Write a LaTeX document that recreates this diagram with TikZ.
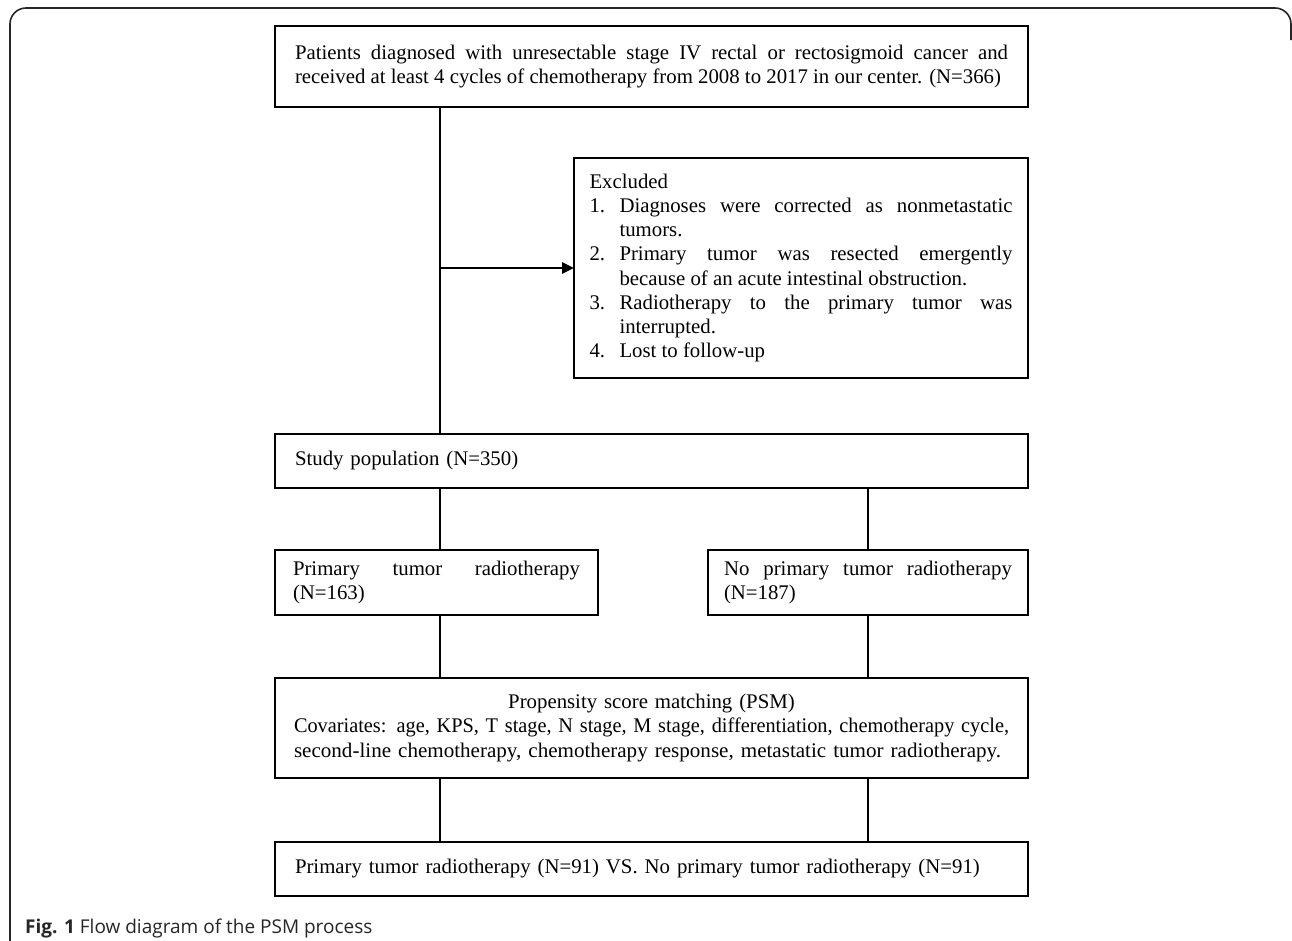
\documentclass[tikz,border=0pt]{standalone}
\usepackage{graphicx}
\usepackage{fontspec}
\setmainfont{Liberation Serif}
\newfontfamily\capfont{Open Sans}
\usetikzlibrary{arrows.meta}
\begin{document}
\begin{tikzpicture}[x=1pt,y=-1pt,
  box/.style={draw=black, line width=2.8pt, inner xsep=20pt, inner ysep=0pt, outer sep=0pt,
    font=\fontsize{20.8}{24.2}\selectfont, anchor=north west},
  conn/.style={line width=2.8pt},
  arr/.style={conn, -{Triangle[length=12pt,width=11pt]}},
  frame/.style={line width=1.6pt, draw=black!85, rounded corners=16pt}
]
\useasboundingbox (0,0) rectangle (1292,940);
\fill[white] (0,0) rectangle (1292,940);
\draw[frame] (10,942) -- (10,8) -- (1291,8) -- (1291,40);

\node[box, minimum width=753pt, minimum height=81pt, text width=713pt, align=justify] (top) at (275,26)
  {Patients diagnosed with unresectable stage IV rectal or rectosigmoid cancer and\linebreak
   received at least 4 cycles of chemotherapy from 2008 to 2017 in our center. (N=366)};

\node[box, minimum width=454pt, minimum height=220pt, text width=423pt, inner xsep=15.5pt, align=justify] (excl) at (574,158)
  {\noindent Excluded\par
   \noindent\hangindent=30pt\hangafter=1\makebox[30pt][l]{1.}Diagnoses were corrected as nonmetastatic\linebreak tumors.\par
   \noindent\hangindent=30pt\hangafter=1\makebox[30pt][l]{2.}Primary tumor was resected emergently\linebreak because of an acute intestinal obstruction.\par
   \noindent\hangindent=30pt\hangafter=1\makebox[30pt][l]{3.}Radiotherapy to the primary tumor was\linebreak interrupted.\par
   \noindent\hangindent=30pt\hangafter=1\makebox[30pt][l]{4.}Lost to follow-up\par};

\node[box, minimum width=753pt, minimum height=54pt, text width=713pt, align=left] (study) at (275,434)
  {Study population (N=350)};

\node[box, minimum width=323pt, minimum height=65pt, text width=287pt, inner xsep=18pt, align=justify] (left) at (275,550)
  {Primary tumor radiotherapy\linebreak (N=163)};

\node[box, minimum width=320pt, minimum height=65pt, text width=288pt, inner xsep=16pt, align=justify] (right) at (708,550)
  {No primary tumor radiotherapy\linebreak (N=187)};

\node[box, minimum width=753pt, minimum height=100pt, text width=715pt, inner xsep=19pt, align=left] (psm) at (275,678)
  {\makebox[\linewidth]{Propensity score matching (PSM)}\\
   \resizebox{\linewidth}{\height}{Covariates: age, KPS, T stage, N stage, M stage, differentiation, chemotherapy cycle,}\\
   \resizebox{707pt}{\height}{second-line chemotherapy, chemotherapy response, metastatic tumor radiotherapy.}};

\node[box, minimum width=753pt, minimum height=54pt, text width=713pt, align=left] (bottom) at (275,842)
  {Primary tumor radiotherapy (N=91) VS. No primary tumor radiotherapy (N=91)};

\coordinate (vl) at (440,0);
\coordinate (vr) at (868,0);

\draw[conn] (vl |- top.south) -- (vl |- study.north);
\draw[arr] (vl |- excl.west) -- (excl.west);
\draw[conn] (vl |- study.south) -- (vl |- left.north);
\draw[conn] (vr |- study.south) -- (vr |- right.north);
\draw[conn] (vl |- left.south) -- (vl |- psm.north);
\draw[conn] (vr |- right.south) -- (vr |- psm.north);
\draw[conn] (vl |- psm.south) -- (vl |- bottom.north);
\draw[conn] (vr |- psm.south) -- (vr |- bottom.north);

\node[anchor=base west, inner sep=0pt, font=\capfont\fontsize{19}{22}\selectfont, text=black!85] (cap) at (25,933)
  {\textbf{Fig. 1} Flow diagram of the PSM process};
\end{tikzpicture}
\end{document}
